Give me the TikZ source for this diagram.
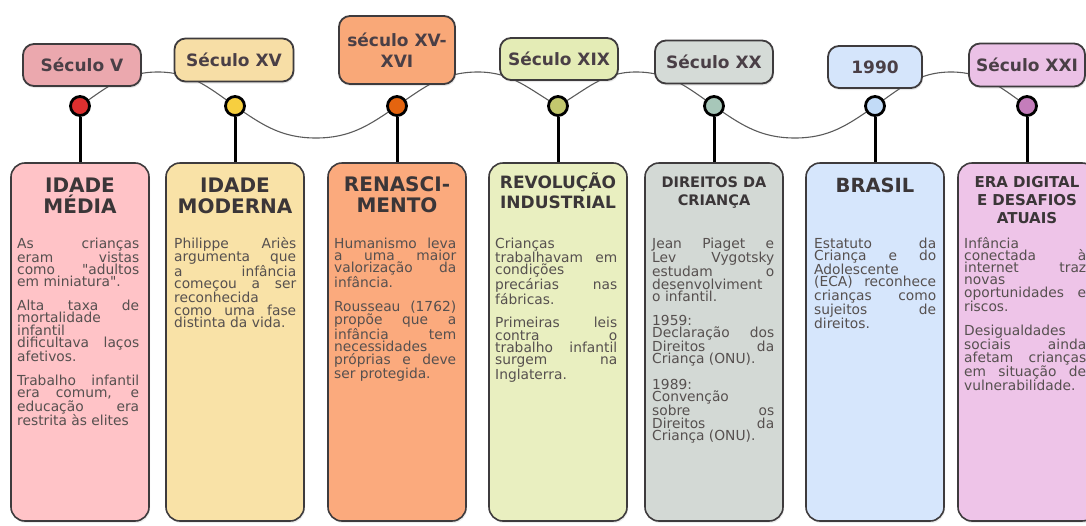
\documentclass[tikz,border=0pt]{standalone}
\usepackage{fontspec}
\setmainfont{DejaVu Sans}[Ligatures=TeXOff]
\usetikzlibrary{shadows}

\definecolor{waveGrey}{HTML}{5A5A5A}
\definecolor{frameGrey}{HTML}{3E3B3D}
\definecolor{labelInk}{HTML}{4A3F46}
\definecolor{headInk}{HTML}{3B3638}
\definecolor{bodyInk}{HTML}{56504F}
% one colour triple per era: tag, card, dot
\definecolor{medTag}{HTML}{EBA8AE}\definecolor{medCard}{HTML}{FFC3C7}\definecolor{medDot}{HTML}{DC2F2F}
\definecolor{modTag}{HTML}{F7DEA6}\definecolor{modCard}{HTML}{F9E2A7}\definecolor{modDot}{HTML}{F7CF3F}
\definecolor{renTag}{HTML}{F9A878}\definecolor{renCard}{HTML}{FBAA7D}\definecolor{renDot}{HTML}{E4640F}
\definecolor{revTag}{HTML}{E4ECB6}\definecolor{revCard}{HTML}{E9EFC0}\definecolor{revDot}{HTML}{C3C86E}
\definecolor{dirTag}{HTML}{D5DBD7}\definecolor{dirCard}{HTML}{D3D9D5}\definecolor{dirDot}{HTML}{A7C7B9}
\definecolor{braTag}{HTML}{D5E5FB}\definecolor{braCard}{HTML}{D6E6FC}\definecolor{braDot}{HTML}{C2DBF7}
\definecolor{digTag}{HTML}{EBC1E6}\definecolor{digCard}{HTML}{EEC4E8}\definecolor{digDot}{HTML}{C47DBB}

\newcommand{\cardhead}[3]{\parbox[t]{134pt}{\centering\fontsize{#1}{#2}\selectfont\bfseries #3}}
\newcommand{\cardbody}[1]{\parbox[t]{122pt}{\fontsize{13.8pt}{12.3pt}\selectfont
  \tolerance=10000\hbadness=10000\hyphenpenalty=10000\setlength{\parskip}{11.5pt}#1}}

\tikzset{
  tag/.style={draw=frameGrey, line width=1.8pt, rounded corners=11pt, inner sep=0pt,
    font=\bfseries\fontsize{17}{21}\selectfont, text=labelInk, align=center,
    drop shadow={shadow xshift=1pt, shadow yshift=-2pt, opacity=.18}},
  card/.style={draw=frameGrey, line width=1.6pt, rounded corners=14pt, inner sep=0pt,
    minimum width=138pt, minimum height=358pt,
    drop shadow={shadow xshift=1pt, shadow yshift=-2pt, opacity=.15}},
  bead/.style={circle, draw=black, line width=2.8pt, minimum size=19pt, inner sep=0pt},
  stem/.style={line width=3pt, black},
  wave/.style={waveGrey, line width=1.1pt},
  heading/.style={anchor=base, text=headInk, inner sep=0pt},
  body/.style={anchor=base west, text=bodyInk, inner sep=0pt,
    font=\fontsize{13.8pt}{12.3pt}\selectfont}
}

\begin{document}
\begin{tikzpicture}[x=1pt,y=-1pt]
	\clip (0,0) rectangle (1086,525);
	% cards
	\node[card,fill=medCard] (card1) at (80,342) {};
	\node[card,fill=modCard] (card2) at (235,342) {};
	\node[card,fill=renCard] (card3) at (397,342) {};
	\node[card,fill=revCard] (card4) at (558,342) {};
	\node[card,fill=dirCard] (card5) at (714,342) {};
	\node[card,fill=braCard] (card6) at (875,342) {};
	\node[card,fill=digCard] (card7) at (1027,342) {};
	% wave through the dots
	\coordinate (p1) at (80,106);
	\coordinate (p2) at (235,106);
	\coordinate (p3) at (397,106);
	\coordinate (p4) at (558,106);
	\coordinate (p5) at (714,106);
	\coordinate (p6) at (875,106);
	\coordinate (p7) at (1027,106);
	\coordinate (c1) at (158,72);
	\coordinate (t1) at (316,138);
	\coordinate (c2) at (478,72);
	\coordinate (c3) at (636,72);
	\coordinate (t2) at (795,138);
	\coordinate (c4) at (951,72);
	\draw[wave] (p1) to[out=35,in=180] (c1) to[out=0,in=145] (p2)
		to[out=-35,in=180] (t1) to[out=0,in=215] (p3)
		to[out=35,in=180] (c2) to[out=0,in=150] (p4)
		to[out=30,in=180] (c3) to[out=0,in=145] (p5)
		to[out=-35,in=180] (t2) to[out=0,in=215] (p6)
		to[out=35,in=180] (c4) to[out=0,in=145] (p7);
	% period tags
	\node[tag,fill=medTag,minimum width=118pt,minimum height=42pt] (tag1) at (82,65) {Século V};
	\node[tag,fill=modTag,minimum width=119pt,minimum height=43pt] (tag2) at (234,60) {Século XV};
	\node[tag,fill=renTag,minimum width=116pt,minimum height=68pt] (tag3) at (397,50) {século XV-\\XVI};
	\node[tag,fill=revTag,minimum width=118pt,minimum height=42pt] (tag4) at (559,59) {Século XIX};
	\node[tag,fill=dirTag,minimum width=118pt,minimum height=43pt] (tag5) at (714,62) {Século XX};
	\node[tag,fill=braTag,minimum width=94pt,minimum height=42pt] (tag6) at (875,67) {1990};
	\node[tag,fill=digTag,minimum width=116pt,minimum height=43pt] (tag7) at (1027,65) {Século XXI};
	% dots and stems
	\foreach \i/\c in {1/medDot,2/modDot,3/renDot,4/revDot,5/dirDot,6/braDot,7/digDot}{
		\node[bead,fill=\c] (dot\i) at (p\i) {};
		\draw[stem] (dot\i) -- (card\i);
	}
	% headings
	\node[heading] (head1) at (80,192) {\cardhead{20}{21.5}{IDADE\\MÉDIA}};
	\node[heading] (head2) at (235,192) {\cardhead{20}{21.5}{IDADE\\MODERNA}};
	\node[heading] (head3) at (397,191) {\cardhead{20}{21.5}{RENASCI-\\MENTO}};
	\node[heading] (head4) at (558,188) {\cardhead{17}{20}{REVOLUÇÃO\\INDUSTRIAL}};
	\node[heading] (head5) at (714,187) {\cardhead{14.5}{18}{DIREITOS DA\\CRIANÇA}};
	\node[heading] (head6) at (875,192) {\cardhead{19.5}{21}{BRASIL}};
	\node[heading] (head7) at (1027,187) {\cardhead{15}{18}{ERA DIGITAL\\E DESAFIOS\\ATUAIS}};
	% texts
	\node[body] (text1) at (17,248) {\cardbody{As crianças\linebreak eram vistas\linebreak como "adultos\linebreak em miniatura".\par Alta taxa de\linebreak mortalidade\linebreak infantil\linebreak dificultava laços\linebreak afetivos.\par Trabalho infantil\linebreak era comum, e\linebreak educação era\linebreak restrita às elites}};
	\node[body] (text2) at (174,248) {\cardbody{Philippe Ariès\linebreak argumenta que\linebreak a infância\linebreak começou a ser\linebreak reconhecida\linebreak como uma fase\linebreak distinta da vida.}};
	\node[body] (text3) at (334,248) {\cardbody{Humanismo leva\linebreak a uma maior\linebreak valorização da\linebreak infância.\par Rousseau (1762)\linebreak propõe que a\linebreak infância tem\linebreak necessidades\linebreak próprias e deve\linebreak ser protegida.}};
	\node[body] (text4) at (495,248) {\cardbody{Crianças\linebreak trabalhavam em\linebreak condições\linebreak precárias nas\linebreak fábricas.\par Primeiras leis\linebreak contra o\linebreak trabalho infantil\linebreak surgem na\linebreak Inglaterra.}};
	\node[body] (text5) at (652,248) {\cardbody{Jean Piaget e\linebreak Lev Vygotsky\linebreak estudam o\linebreak desenvolviment\linebreak o infantil.\par 1959:\linebreak Declaração dos\linebreak Direitos da\linebreak Criança (ONU).\par 1989:\linebreak Convenção\linebreak sobre os\linebreak Direitos da\linebreak Criança (ONU).}};
	\node[body] (text6) at (814,248) {\cardbody{Estatuto da\linebreak Criança e do\linebreak Adolescente\linebreak (ECA) reconhece\linebreak crianças como\linebreak sujeitos de\linebreak direitos.}};
	\node[body] (text7) at (964,248) {\cardbody{Infância\linebreak conectada à\linebreak internet traz\linebreak novas\linebreak oportunidades e\linebreak riscos.\par Desigualdades\linebreak sociais ainda\linebreak afetam crianças\linebreak em situação de\linebreak vulnerabilidade.}};
\end{tikzpicture}
\end{document}
